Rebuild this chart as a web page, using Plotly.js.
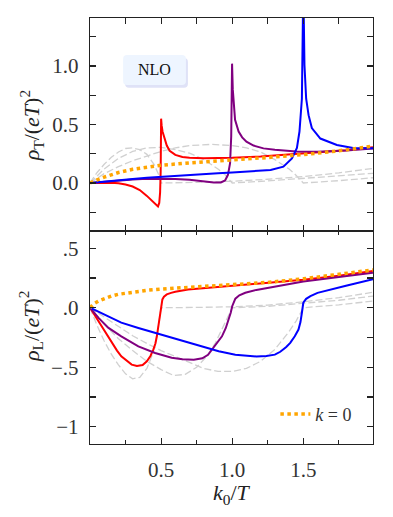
<!DOCTYPE html>
<html>
<head>
<meta charset="utf-8">
<script src="https://cdn.plot.ly/plotly-3.0.1.min.js"></script>
<style>
  body { margin: 0; background: #fff; }
  #plot1 { width: 393px; height: 517px; }
</style>
</head>
<body>
<div id="plot1"></div>
<script>
// ---- top panel: rho_T ----
var k0_T_x = [0, 0.02, 0.05, 0.1, 0.2, 0.3, 0.4, 0.5, 0.7, 1.0, 1.25, 1.5, 1.75, 1.99];
var k0_T_y = [0, 0.012, 0.027, 0.05, 0.09, 0.117, 0.137, 0.152, 0.172, 0.195, 0.218, 0.243, 0.275, 0.315];

var k05_T_x = [0, 0.05, 0.1, 0.15, 0.2, 0.25, 0.3, 0.35, 0.4, 0.44, 0.465, 0.478, 0.487, 0.493, 0.497, 0.5,
  0.504, 0.51, 0.52, 0.54, 0.56, 0.6, 0.65, 0.7, 0.8, 0.9, 1.0, 1.2, 1.4, 1.6, 1.8, 1.99];
var k05_T_y = [0, 0.003, 0.004, 0.003, -0.002, -0.012, -0.03, -0.06, -0.11, -0.16, -0.192, -0.2, -0.17, -0.08, 0.1, 0.55,
  0.49, 0.44, 0.4, 0.32, 0.275, 0.24, 0.222, 0.216, 0.212, 0.213, 0.216, 0.226, 0.242, 0.26, 0.28, 0.305];

var k10_T_x = [0, 0.1, 0.2, 0.3, 0.4, 0.5, 0.6, 0.7, 0.8, 0.87, 0.92, 0.95, 0.97, 0.985, 0.993, 0.999,
  1.004, 1.01, 1.02, 1.045, 1.07, 1.1, 1.15, 1.22, 1.3, 1.45, 1.6, 1.8, 1.99];
var k10_T_y = [0, 0.012, 0.022, 0.03, 0.036, 0.038, 0.035, 0.027, 0.013, 0.004, 0.005, 0.022, 0.07, 0.17, 0.4, 1.02,
  0.8, 0.66, 0.54, 0.44, 0.39, 0.353, 0.32, 0.296, 0.284, 0.27, 0.268, 0.278, 0.295];

var k15_T_x = [0, 0.1, 0.2, 0.3, 0.4, 0.5, 0.7, 0.9, 1.0, 1.1, 1.2, 1.27, 1.36, 1.42, 1.455, 1.473, 1.49, 1.494, 1.5,
  1.508, 1.52, 1.537, 1.56, 1.62, 1.736, 1.85, 1.99];
var k15_T_y = [0, 0.013, 0.024, 0.035, 0.045, 0.054, 0.072, 0.084, 0.09, 0.097, 0.104, 0.111, 0.14, 0.21, 0.3, 0.44, 0.72, 1.15, 1.7,
  1.01, 0.72, 0.58, 0.47, 0.38, 0.325, 0.3, 0.297];

// LO curves (grey dashed)
var lo05_T_x = [0, 0.05, 0.1, 0.15, 0.2, 0.25, 0.3, 0.35, 0.4, 0.45, 0.48, 0.5, 0.75, 1.0, 1.25, 1.5, 1.75, 1.99];
var lo05_T_y = [0, 0.09, 0.16, 0.22, 0.265, 0.295, 0.3, 0.285, 0.245, 0.16, 0.08, 0, 0.006, 0.015, 0.032, 0.055, 0.087, 0.125];
var lo10_T_x = [0, 0.1, 0.2, 0.3, 0.4, 0.5, 0.6, 0.7, 0.8, 0.9, 0.95, 1.0, 1.25, 1.5, 1.75, 1.99];
var lo10_T_y = [0, 0.12, 0.21, 0.27, 0.3, 0.305, 0.285, 0.255, 0.2, 0.12, 0.07, 0, 0.018, 0.04, 0.06, 0.083];
var lo15_T_x = [0, 0.1, 0.2, 0.3, 0.4, 0.5, 0.6, 0.7, 0.85, 1.0, 1.1, 1.2, 1.3, 1.4, 1.45, 1.5, 1.75, 1.99];
var lo15_T_y = [0, 0.08, 0.14, 0.19, 0.23, 0.27, 0.3, 0.32, 0.33, 0.32, 0.3, 0.265, 0.2, 0.12, 0.065, 0, 0.02, 0.045];

// ---- bottom panel: rho_L ----
var k0_L_x = [0, 0.01, 0.03, 0.06, 0.1, 0.15, 0.2, 0.3, 0.4, 0.5, 0.7, 1.0, 1.25, 1.5, 1.75, 1.99];
var k0_L_y = [0, 0.012, 0.035, 0.056, 0.078, 0.098, 0.113, 0.133, 0.147, 0.157, 0.171, 0.19, 0.213, 0.243, 0.278, 0.318];

var k05_L_x = [0, 0.04, 0.083, 0.12, 0.153, 0.19, 0.22, 0.26, 0.293, 0.33, 0.37, 0.4, 0.425, 0.446, 0.46, 0.47, 0.48,
  0.487, 0.493, 0.5, 0.509, 0.52, 0.54, 0.57, 0.6, 0.69, 0.8, 1.0, 1.25, 1.5, 1.75, 1.99];
var k05_L_y = [0, -0.075, -0.155, -0.225, -0.295, -0.36, -0.408, -0.45, -0.478, -0.49, -0.482, -0.45, -0.405, -0.35, -0.3, -0.24, -0.16,
  -0.09, -0.02, 0.03, 0.07, 0.093, 0.112, 0.125, 0.135, 0.154, 0.165, 0.183, 0.205, 0.235, 0.27, 0.308];

var k10_L_x = [0, 0.06, 0.13, 0.22, 0.34, 0.458, 0.574, 0.65, 0.73, 0.79, 0.83, 0.858, 0.9, 0.928, 0.955, 0.975, 0.99, 1.0,
  1.022, 1.05, 1.092, 1.17, 1.256, 1.37, 1.5, 1.75, 1.99];
var k10_L_y = [0, -0.085, -0.169, -0.24, -0.324, -0.38, -0.42, -0.433, -0.436, -0.425, -0.395, -0.35, -0.29, -0.24, -0.17, -0.1, -0.04, 0.013,
  0.076, 0.105, 0.126, 0.15, 0.169, 0.196, 0.22, 0.258, 0.295];

var k15_L_x = [0, 0.1, 0.22, 0.34, 0.458, 0.58, 0.69, 0.8, 0.905, 1.022, 1.1, 1.17, 1.24, 1.3, 1.338, 1.38, 1.408, 1.44,
  1.466, 1.48, 1.49, 1.5, 1.52, 1.55, 1.6, 1.69, 1.8, 1.99];
var k15_L_y = [0, -0.06, -0.125, -0.17, -0.212, -0.255, -0.295, -0.33, -0.366, -0.394, -0.405, -0.41, -0.405, -0.394, -0.37, -0.33, -0.295, -0.24,
  -0.183, -0.12, -0.042, 0.042, 0.075, 0.098, 0.125, 0.154, 0.185, 0.24];

var lo05_L_x = [0, 0.05, 0.1, 0.15, 0.2, 0.25, 0.3, 0.35, 0.4, 0.44, 0.47, 0.49, 0.5, 0.75, 1.0, 1.25, 1.5, 1.75, 1.99];
var lo05_L_y = [0, -0.15, -0.28, -0.39, -0.48, -0.555, -0.597, -0.585, -0.51, -0.39, -0.24, -0.1, 0, 0.003, 0.008, 0.022, 0.05, 0.085, 0.13];
var lo10_L_x = [0, 0.1, 0.2, 0.3, 0.4, 0.5, 0.59, 0.67, 0.75, 0.82, 0.88, 0.93, 0.97, 1.0, 1.25, 1.5, 1.75, 1.99];
var lo10_L_y = [0, -0.14, -0.26, -0.36, -0.45, -0.52, -0.57, -0.56, -0.5, -0.41, -0.3, -0.18, -0.07, 0, 0.012, 0.035, 0.063, 0.098];
var lo15_L_x = [0, 0.1, 0.2, 0.3, 0.4, 0.5, 0.6, 0.7, 0.8, 0.9, 1.0, 1.1, 1.2, 1.3, 1.4, 1.45, 1.5, 1.75, 1.99];
var lo15_L_y = [0, -0.08, -0.16, -0.235, -0.3, -0.36, -0.41, -0.46, -0.51, -0.535, -0.535, -0.51, -0.45, -0.35, -0.2, -0.11, 0, 0.025, 0.056];

var ylabels_L = ['\u22121', '\u2212.5', '.0', '.5'];

var serif = 'Liberation Serif';

function line(x, y, color, width, dash, xa, ya) {
  return {
    x: x, y: y, type: 'scatter', mode: 'lines',
    line: {color: color, width: width, dash: dash || 'solid'},
    xaxis: xa, yaxis: ya, showlegend: false, hoverinfo: 'skip'
  };
}

var grey = '#d0d0d0';
var gdash = '7px,3px';

var data = [
  line(lo05_T_x, lo05_T_y, grey, 1.3, gdash, 'x2', 'y2'),
  line(lo10_T_x, lo10_T_y, grey, 1.3, gdash, 'x2', 'y2'),
  line(lo15_T_x, lo15_T_y, grey, 1.3, gdash, 'x2', 'y2'),
  line(k05_T_x, k05_T_y, '#ff0000', 2, null, 'x2', 'y2'),
  line(k10_T_x, k10_T_y, '#800080', 2, null, 'x2', 'y2'),
  line(k15_T_x, k15_T_y, '#0000ff', 2, null, 'x2', 'y2'),
  line(k0_T_x, k0_T_y, '#ffa500', 3.5, 'dot', 'x2', 'y2'),

  line(lo05_L_x, lo05_L_y, grey, 1.3, gdash, 'x', 'y'),
  line(lo10_L_x, lo10_L_y, grey, 1.3, gdash, 'x', 'y'),
  line(lo15_L_x, lo15_L_y, grey, 1.3, gdash, 'x', 'y'),
  line(k05_L_x, k05_L_y, '#ff0000', 2, null, 'x', 'y'),
  line(k10_L_x, k10_L_y, '#800080', 2, null, 'x', 'y'),
  line(k15_L_x, k15_L_y, '#0000ff', 2, null, 'x', 'y')
];
var orangeL = line(k0_L_x, k0_L_y, '#ffa500', 3.5, 'dot', 'x', 'y');
orangeL.showlegend = true;
orangeL.name = '<i>k</i> = 0';
data.push(orangeL);

var tfont = {family: serif, size: 21, color: '#333'};

var axisCommon = {
  showline: true, linecolor: '#222', linewidth: 1.3, mirror: 'ticks',
  ticks: 'inside', ticklen: 6, tickwidth: 1.2, tickcolor: '#222',
  showgrid: false, zeroline: false, ticklabelstandoff: 6,
  tickfont: tfont
};

function ax(extra) { return Object.assign({}, axisCommon, extra); }

// rounded box for the NLO label, in paper coords
function roundRect(x0, y0, x1, y1, rpx) {
  var rx = rpx / 283, ry = rpx / 426;
  return 'M' + (x0 + rx) + ',' + y0 + ' L' + (x1 - rx) + ',' + y0 + ' Q' + x1 + ',' + y0 + ' ' + x1 + ',' + (y0 + ry) +
    ' L' + x1 + ',' + (y1 - ry) + ' Q' + x1 + ',' + y1 + ' ' + (x1 - rx) + ',' + y1 +
    ' L' + (x0 + rx) + ',' + y1 + ' Q' + x0 + ',' + y1 + ' ' + x0 + ',' + (y1 - ry) +
    ' L' + x0 + ',' + (y0 + ry) + ' Q' + x0 + ',' + y0 + ' ' + (x0 + rx) + ',' + y0 + ' Z';
}

var titleFont = {family: serif, size: 22, color: '#222'};

// axis titles as paper annotations so their place is fixed
function axTitle(text, x, y, angle) {
  return {xref: 'paper', yref: 'paper', x: x, y: y, xanchor: 'center', yanchor: 'middle',
    text: text, textangle: angle, showarrow: false, font: titleFont};
}

var layout = {
  width: 393, height: 517,
  margin: {l: 90, r: 20, t: 18, b: 73},
  paper_bgcolor: '#fff', plot_bgcolor: '#fff',
  font: {family: serif, size: 20, color: '#222'},
  hovermode: false,
  xaxis: ax({
    domain: [0, 1], anchor: 'y', range: [0, 1.99],
    tickmode: 'array', tickvals: [0.5, 1.0, 1.5], tickformat: '.1f',
    minor: {tickvals: [0.25, 0.75, 1.25, 1.75], ticks: 'inside', ticklen: 4, tickwidth: 1.2, tickcolor: '#222'}
  }),
  xaxis2: ax({
    domain: [0, 1], anchor: 'y2', matches: 'x', range: [0, 1.99], showticklabels: false,
    tickmode: 'array', tickvals: [0.5, 1.0, 1.5],
    minor: {tickvals: [0.25, 0.75, 1.25, 1.75], ticks: 'inside', ticklen: 6, tickwidth: 1.2, tickcolor: '#222'}
  }),
  yaxis: ax({
    domain: [0, 0.5], anchor: 'x', range: [-1.145, 0.645],
    tickmode: 'array', tickvals: [-1, -0.5, 0, 0.5], ticktext: ylabels_L,
    minor: {tickvals: [-0.75, -0.25, 0.25], ticks: 'inside', ticklen: 6, tickwidth: 1.2, tickcolor: '#222'}
  }),
  yaxis2: ax({
    domain: [0.5, 1], anchor: 'x2', range: [-0.41, 1.41],
    tickmode: 'array', tickvals: [0, 0.5, 1.0], tickformat: '.1f',
    minor: {tickvals: [-0.25, 0.25, 0.75, 1.25], ticks: 'inside', ticklen: 6, tickwidth: 1.2, tickcolor: '#222'}
  }),
  showlegend: true,
  legend: {
    x: 0.655, y: 0.07, xanchor: 'left', yanchor: 'middle',
    bgcolor: 'rgba(0,0,0,0)', borderwidth: 0,
    font: {family: serif, size: 18, color: '#333'}, itemwidth: 30
  },
  shapes: [
    {type: 'path', xref: 'paper', yref: 'paper', path: roundRect(0.124, 0.836, 0.346, 0.906, 4),
      fillcolor: '#dfe2f7', line: {width: 0}, layer: 'below'},
    {type: 'path', xref: 'paper', yref: 'paper', path: roundRect(0.117, 0.843, 0.339, 0.913, 4),
      fillcolor: '#eef5ff', line: {width: 0}, layer: 'below'}
  ],
  annotations: [
    {xref: 'paper', yref: 'paper', x: 0.228, y: 0.878, xanchor: 'center', yanchor: 'middle',
      text: 'NLO', showarrow: false, font: {family: serif, size: 16, color: '#111'}},
    axTitle('<i>\u03c1</i><sub>T</sub>/(<i>eT</i>)<sup>2</sup>', -0.208, 0.746, -90),
    axTitle('<i>\u03c1</i><sub>L</sub>/(<i>eT</i>)<sup>2</sup>', -0.208, 0.275, -90),
    axTitle('<i>k</i><sub>0</sub>/<i>T</i>', 0.5, -0.118, 0)
  ]
};

Plotly.newPlot('plot1', data, layout, {staticPlot: true, displayModeBar: false});
</script>
</body>
</html>
